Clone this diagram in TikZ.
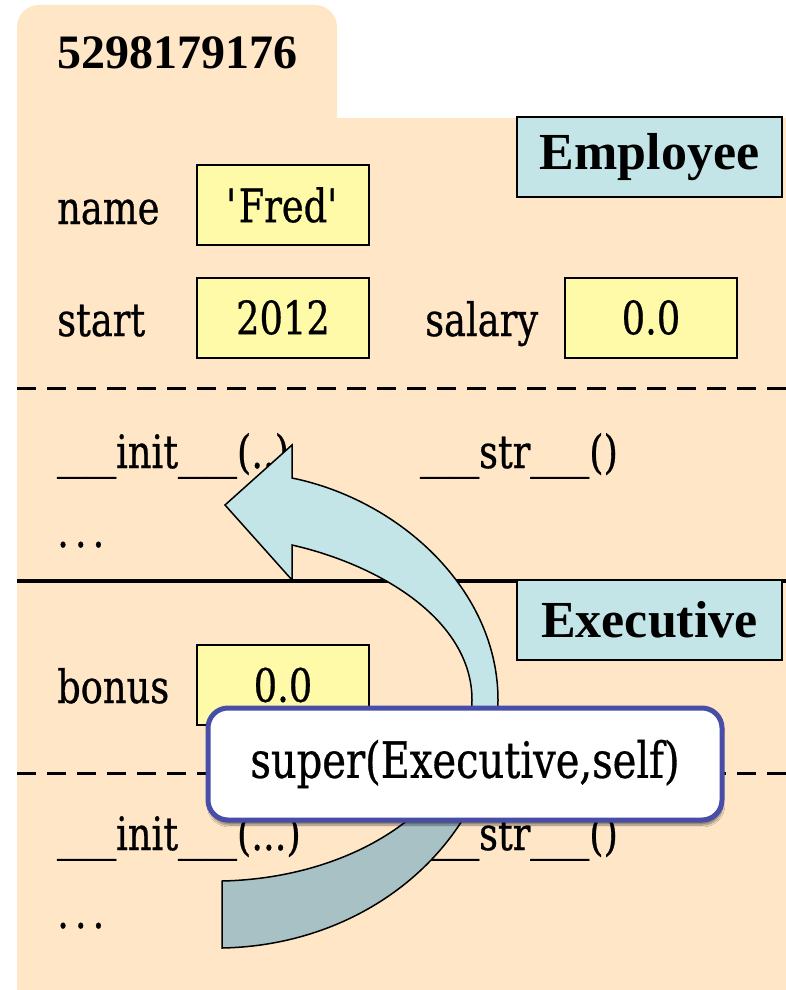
\documentclass[tikz,border=0pt]{standalone}
\usepackage{fontspec}
\usepackage{graphicx}
\setmainfont{Liberation Serif}
\newfontfamily\tw[FakeStretch=0.8,FakeBold=0.6]{DejaVu Serif}
\usetikzlibrary{shadows.blur}

\definecolor{peach}{RGB}{254,230,198}
\definecolor{valyellow}{RGB}{255,250,168}
\definecolor{clsblue}{RGB}{196,229,232}
\definecolor{arrdark}{RGB}{167,193,196}
\definecolor{superedge}{RGB}{72,78,168}

% wide underscore, as in the slab typewriter face
\newcommand\wu{\scalebox{1.6}[1]{\_}}
% widely spaced ellipsis
\newcommand\wdots{.\kern6pt.\kern6pt.}

\tikzset{
  twfont/.style={font=\tw\fontsize{46}{50}\selectfont},
  valbox/.style={draw=black, line width=2pt, fill=valyellow, minimum width=172pt,
    minimum height=80pt, inner sep=0pt, twfont},
  classbox/.style={draw=black, line width=2pt, fill=clsblue, minimum width=265pt,
    minimum height=80pt, inner sep=0pt, font=\bfseries\fontsize{52}{56}\selectfont},
  lbl/.style={anchor=base west, inner sep=0pt, twfont},
  sepdash/.style={line width=3pt, dash pattern=on 19pt off 11pt},
  sepsolid/.style={line width=3.5pt},
  superbox/.style={draw=superedge, line width=5pt, fill=white, rounded corners=20pt,
    minimum width=514pt, minimum height=112pt, inner sep=0pt,
    font=\tw\fontsize{50}{54}\selectfont,
    blur shadow={shadow xshift=1pt, shadow yshift=-5pt, shadow blur steps=10, shadow opacity=45}},
}

\begin{document}
\begin{tikzpicture}[x=1pt,y=-1pt]
\useasboundingbox (0,0) rectangle (786,990);

% object folder: tab and body
\fill[peach, rounded corners=22pt] (17,5) rectangle (337,160);
\fill[peach] (17,118) rectangle (786,990);

\node[anchor=base west, inner sep=0pt, font=\bfseries\fontsize{48}{52}\selectfont] (oid) at (57,68) {5298179176};

% separators
\draw[sepdash] (17,388) coordinate (d1a) -- (786,388) coordinate (d1b);
\draw[sepsolid] (17,581) coordinate (s1a) -- (786,581) coordinate (s1b);
\draw[sepdash] (17,773) coordinate (d2a) -- (786,773) coordinate (d2b);

% class labels
\node[classbox] (emp) at (649.5,157) {Employee};
\node[classbox] (exe) at (649.5,620) {Executive};

% Employee fields
\node[lbl] (lname) at (57,224) {name};
\node[valbox] (vname) at (283,205) {\textquotesingle Fred\textquotesingle};
\node[lbl] (lstart) at (57,336) {start};
\node[valbox] (vstart) at (283,317.5) {2012};
\node[lbl] (lsal) at (425,336) {salary};
\node[valbox] (vsal) at (651,317.5) {0.0};

% Employee methods
\node[lbl] (einit) at (57,468) {\wu\wu init\wu\wu(..)};
\node[lbl] (estr) at (420,468) {\wu\wu str\wu\wu()};
\node[lbl] (edots) at (57,547) {\wdots};

% Executive fields
\node[lbl] (lbonus) at (57,703) {bonus};
\node[valbox] (vbonus) at (283,685) {0.0};

% Executive methods
\node[lbl] (xinit) at (57,850) {\wu\wu init\wu\wu(...)};
\node[lbl] (xstr) at (420,850) {\wu\wu str\wu\wu()};
\node[lbl] (xdots) at (57,928) {\wdots};

% curved arrow from the Executive part up to Employee.__init__
\def\arrowpath{(222,948) .. controls (380,945) and (498,830) .. (498,700)
  .. controls (498,590) and (400,500) .. (292,478)
  -- (292,445) -- (225,505) -- (292,580) -- (292,545)
  .. controls (380,565) and (472,620) .. (472,700)
  .. controls (472,800) and (360,878) .. (222,881) -- cycle}
\fill[clsblue] \arrowpath;
\begin{scope}
  \clip (0,790) rectangle (786,990);
  \fill[arrdark] \arrowpath;
\end{scope}
\draw[line width=1.5pt, line join=miter] \arrowpath;

% the call that starts the lookup
\node[superbox] (sup) at (465,764) {super(Executive,self)};
\end{tikzpicture}
\end{document}
